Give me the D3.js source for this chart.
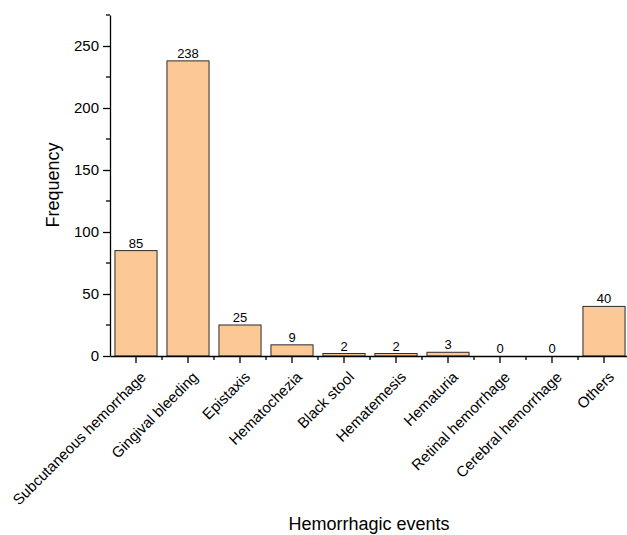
<!DOCTYPE html>
<html><head><meta charset="utf-8">
<script src="https://cdn.jsdelivr.net/npm/d3@7"></script>
<style>body{margin:0;background:#fff}</style>
</head><body>
<svg id="chart" width="627" height="535"></svg>
<script>
const categories = ["Subcutaneous hemorrhage","Gingival bleeding","Epistaxis","Hematochezia","Black stool","Hematemesis","Hematuria","Retinal hemorrhage","Cerebral hemorrhage","Others"];
const values = [85,238,25,9,2,2,3,0,0,40];
const yTicks = [0,50,100,150,200,250];
const yMinorTicks = [25,75,125,175,225,275];

(function(){
const svg = d3.select("#chart");
const font = "'Liberation Sans', Arial, sans-serif";
const mLeft = 110, mRight = 630, mTop = 15, mBottom = 356;

const x = d3.scaleBand().domain(categories).range([mLeft, mRight]).paddingInner(0.19).paddingOuter(0.095);
const y = d3.scaleLinear().domain([0, 275]).range([mBottom, mTop]);

// bars
svg.append("g").selectAll("rect").data(values).join("rect")
  .attr("x", (d,i) => x(categories[i]))
  .attr("y", d => y(d))
  .attr("width", x.bandwidth())
  .attr("height", d => mBottom - y(d))
  .attr("fill", "#fbc896")
  .attr("stroke", "#2b2b2b")
  .attr("stroke-width", 1);

// value labels
svg.append("g").selectAll("text").data(values).join("text")
  .attr("x", (d,i) => x(categories[i]) + x.bandwidth()/2)
  .attr("y", d => y(d) - 3)
  .attr("text-anchor", "middle")
  .attr("font-family", font).attr("font-size", 13).attr("fill", "#000")
  .text(d => d);

// y axis
const yAxis = svg.append("g").attr("transform", `translate(${mLeft},0)`)
  .call(d3.axisLeft(y).tickValues(yTicks).tickSize(7).tickPadding(4).tickSizeOuter(0));
yAxis.select(".domain").attr("stroke", "#000").attr("stroke-width", 1.3);
yAxis.selectAll(".tick line").attr("stroke", "#000").attr("stroke-width", 1.3);
yAxis.selectAll("text").attr("font-family", font).attr("font-size", 15).attr("fill", "#000");
yAxis.append("g").selectAll("line").data(yMinorTicks).join("line")
  .attr("x1", 0).attr("x2", -4).attr("y1", d => y(d)).attr("y2", d => y(d))
  .attr("stroke", "#000").attr("stroke-width", 1.3);

// x axis
const xAxis = svg.append("g").attr("transform", `translate(0,${mBottom})`)
  .call(d3.axisBottom(x).tickSize(7).tickSizeOuter(0).tickFormat(""));
xAxis.select(".domain").attr("stroke", "#000").attr("stroke-width", 1.3);
xAxis.selectAll(".tick line").attr("stroke", "#000").attr("stroke-width", 1.3);
const step = x.step();
const bounds = d3.range(1, categories.length).map(i => mLeft + i*step);
xAxis.append("g").selectAll("line").data(bounds).join("line")
  .attr("x1", d => d).attr("x2", d => d).attr("y1", 0).attr("y2", 4)
  .attr("stroke", "#000").attr("stroke-width", 1.3);

// rotated category labels
svg.append("g").selectAll("text").data(categories).join("text")
  .attr("transform", d => `translate(${x(d) + x.bandwidth()/2 + 11},${mBottom + 22}) rotate(-45)`)
  .attr("text-anchor", "end")
  .attr("font-family", font).attr("font-size", 15).attr("fill", "#000")
  .text(d => d);

// axis titles
svg.append("text").attr("transform", `translate(59,185) rotate(-90)`)
  .attr("text-anchor", "middle").attr("font-family", font).attr("font-size", 18).attr("fill", "#000")
  .text("Frequency");
svg.append("text").attr("x", 369).attr("y", 530)
  .attr("text-anchor", "middle").attr("font-family", font).attr("font-size", 18).attr("fill", "#000")
  .text("Hemorrhagic events");
})();
</script>
</body></html>
